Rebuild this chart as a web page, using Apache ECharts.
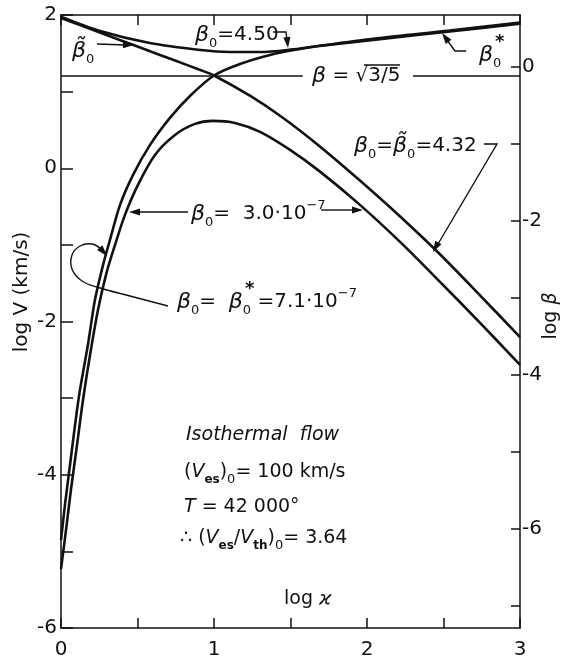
<!DOCTYPE html>
<html><head><meta charset="utf-8">
<script src="https://cdn.jsdelivr.net/npm/echarts@6/dist/echarts.min.js"></script>
<style>html,body{margin:0;padding:0;background:#fff}#c{width:570px;height:669px}</style>
</head><body><div id="c"></div>
<script>
// ---- data (log x on bottom axis, log beta on right axis) ----
const xTickLabels = [0, 1, 2, 3];
const leftTickLabels = [-6, -4, -2, 0, 2];
const rightTickLabels = [-6, -4, -2, 0];
const rightTickValues = [-7, -6, -5, -4, -3, -2, -1, 0];

const tildeX = [0, 0.25, 0.5, 0.75, 0.91, 1.0, 1.24, 1.45, 1.69, 1.95, 2.22, 2.48, 2.74, 3.0];
const tildeY = [0.635, 0.45, 0.265, 0.08, -0.04, -0.111, -0.38, -0.66, -1.03, -1.47, -1.95, -2.44, -2.97, -3.51];

const b450X = [0, 0.25, 0.58, 0.91, 1.1, 1.3, 1.5, 1.67, 2.08, 2.54, 3.0];
const b450Y = [0.653, 0.47, 0.31, 0.22, 0.195, 0.195, 0.225, 0.27, 0.375, 0.472, 0.578];

const starX = [0, 0.026, 0.059, 0.092, 0.124, 0.176, 0.222, 0.275, 0.32, 0.386, 0.471, 0.582, 0.712, 0.843, 1.0, 1.17, 1.366, 1.562, 1.673, 2.085, 2.542, 3.0];
const starY = [-6.149, -5.688, -5.169, -4.649, -4.195, -3.61, -3.026, -2.571, -2.247, -1.792, -1.403, -1.013, -0.662, -0.377, -0.111, 0.039, 0.156, 0.234, 0.268, 0.362, 0.46, 0.562];

const humpX = [0, 0.033, 0.065, 0.105, 0.144, 0.19, 0.242, 0.294, 0.353, 0.418, 0.503, 0.614, 0.745, 0.876, 0.993, 1.137, 1.301, 1.497, 1.693, 1.954, 2.216, 2.477, 2.739, 3.0];
const humpY = [-6.523, -6.013, -5.494, -4.909, -4.325, -3.74, -3.156, -2.701, -2.312, -1.922, -1.532, -1.143, -0.883, -0.74, -0.701, -0.727, -0.844, -1.078, -1.36, -1.792, -2.273, -2.792, -3.325, -3.87];

const criticalLogBeta = -0.111;          // log sqrt(3/5)
const criticalSegments = [[0, 1.58], [2.30, 3.0]];

// ---- chart ----
const zip = (a, b) => a.map((v, i) => [v, b[i]]);
const FF = '"DejaVu Sans", sans-serif';
const INK = '#111';
const chart = echarts.init(document.getElementById('c'), null, {renderer: 'canvas'});

const axisLineStyle = {show: true, onZero: false, lineStyle: {color: INK, width: 1.5}};
function curve(name, xs, ys) {
  return {name, type: 'line', xAxisIndex: 0, yAxisIndex: 1, data: zip(xs, ys),
    showSymbol: false, symbol: 'none', smooth: 0.3, silent: true,
    lineStyle: {color: INK, width: 2.6}, z: 5};
}

const rich = {
  b: {fontFamily: FF, fontSize: 22, fontStyle: 'italic', lineHeight: 30, color: INK},
  n: {fontFamily: FF, fontSize: 20, lineHeight: 30, color: INK},
  s: {fontFamily: FF, fontSize: 13, lineHeight: 13, verticalAlign: 'bottom', color: INK},
  u: {fontFamily: FF, fontSize: 13, lineHeight: 13, verticalAlign: 'top', color: INK},
  i: {fontFamily: FF, fontSize: 19, fontStyle: 'italic', lineHeight: 28, color: INK},
  m: {fontFamily: FF, fontSize: 19, lineHeight: 28, color: INK},
  e: {fontFamily: FF, fontSize: 12, fontWeight: 'bold', lineHeight: 12, verticalAlign: 'bottom', color: INK},
  z: {fontFamily: FF, fontSize: 13, lineHeight: 13, verticalAlign: 'bottom', color: INK}
};
function T(x, y, text, extra) {
  return Object.assign({type: 'text', x, y, silent: true, z: 20,
    style: {text, x: 0, y: 0, fill: INK, font: '20px ' + FF, textAlign: 'left', align: 'left',
      textVerticalAlign: 'middle', verticalAlign: 'middle', rich}}, extra || {});
}
function L(points, smooth) {
  return {type: 'polyline', silent: true, z: 20, shape: {points, smooth: smooth || 0},
    style: {stroke: INK, lineWidth: 1.4, fill: null}};
}
function H(tx, ty, fx, fy) {
  const dx = tx - fx, dy = ty - fy, d = Math.hypot(dx, dy), ux = dx / d, uy = dy / d;
  const len = 11, w = 3.6, bx = tx - ux * len, by = ty - uy * len;
  return {type: 'polygon', silent: true, z: 21,
    shape: {points: [[tx, ty], [bx - uy * w, by + ux * w], [bx + uy * w, by - ux * w]]},
    style: {fill: INK, stroke: null}};
}
const star = (x, y) => ({type: 'text', x, y, silent: true, z: 20,
  style: {text: '*', x: 0, y: 0, fill: INK, font: 'bold 18px ' + FF, align: 'left', textAlign: 'left', verticalAlign: 'middle', textVerticalAlign: 'middle'}});

const graphics = [
  // axis titles
  {type: 'text', x: 22, y: 292, rotation: Math.PI / 2, silent: true,
   style: {text: 'log V (km/s)', x: 0, y: 0, fill: INK, font: '20px ' + FF, align: 'center', textAlign: 'center', verticalAlign: 'middle', textVerticalAlign: 'middle'}},
  {type: 'text', x: 551, y: 316, rotation: Math.PI / 2, silent: true,
   style: {text: '{m|log }{i|β}', x: 0, y: 0, fill: INK, font: '20px ' + FF, align: 'center', textAlign: 'center', verticalAlign: 'middle', textVerticalAlign: 'middle', rich}},
  T(284, 599, '{m|log }{i|ϰ}'),

  // beta tilde 0
  T(72, 51, '{b|β̃}{s|0}'),
  L([[97, 44], [126, 45]]), H(134, 45, 97, 44),

  // beta0 = 4.50
  T(195, 35, '{b|β}{s|0}{n|=4.50}'),
  L([[273, 32], [286, 32], [287, 40]]), H(288, 48, 287, 38),

  // beta = sqrt(3/5)
  T(312, 76, '{b|β}{n| = √3/5}'),
  L([[364, 65], [400, 65]]),

  // beta0*
  T(479, 55, '{b|β}{s|0}'),
  star(495, 42),
  L([[466, 51], [455, 51], [447, 40]]), H(442, 33, 448, 41),

  // beta0 = tilde beta0 = 4.32
  T(354, 146, '{b|β}{s|0}{n|=}{b|β̃}{s|0}{n|=4.32}'),
  L([[484, 144], [497, 144], [438, 244]]), H(433, 252, 438, 243),

  // beta0 = 3.0e-7
  T(191, 214, '{b|β}{s|0}{n|=  3.0·10}{u|−7}'),
  L([[188, 212], [140, 212]]), H(129, 212, 140, 212),
  L([[321, 210], [352, 210]]), H(363, 210, 352, 210),

  // beta0 = beta0* = 7.1e-7
  T(177, 302, '{b|β}{s|0}{n|=  }{b|β}{s|0}{n| =7.1·10}{u|−7}'),
  star(245, 289),
  L([[168, 306], [130, 296], [100, 288], [82, 281], [72, 269], [72, 255], [80, 246], [92, 244], [101, 249]], 0.4),
  H(107, 256, 100, 248),

  // isothermal block
  T(186, 435, '{i|Isothermal  flow}'),
  T(184, 472, '{m|(}{i|V}{e|es}{m|)}{z|0}{m|= 100 km/s}'),
  T(184, 507, '{i|T}{m| = 42 000°}'),
  T(180, 538, '{m|∴ (}{i|V}{e|es}{m|/}{i|V}{e|th}{m|)}{z|0}{m|= 3.64}')
];

chart.setOption({
  animation: false,
  backgroundColor: '#fff',
  grid: {left: 61, right: 50, top: 15, bottom: 41, containLabel: false},
  xAxis: [
    {type: 'value', position: 'bottom', min: 0, max: 3, interval: 0.5,
     axisLine: axisLineStyle, splitLine: {show: false},
     axisTick: {show: true, inside: true, length: 10, lineStyle: {color: INK, width: 1.5}},
     axisLabel: {show: true, margin: 12, fontSize: 20, color: INK, fontFamily: FF,
       formatter: v => xTickLabels.includes(v) ? String(v) : ''}},
    {type: 'value', position: 'top', min: 0, max: 3, interval: 0.5,
     axisLine: axisLineStyle, splitLine: {show: false},
     axisTick: {show: true, inside: true, length: 10, lineStyle: {color: INK, width: 1.5}},
     axisLabel: {show: false}}
  ],
  yAxis: [
    {type: 'value', position: 'left', min: -6, max: 2, interval: 1,
     axisLine: axisLineStyle, splitLine: {show: false},
     axisTick: {show: true, inside: true, length: 12, lineStyle: {color: INK, width: 1.5}},
     axisLabel: {show: true, margin: 4, fontSize: 20, color: INK, fontFamily: FF,
       formatter: v => leftTickLabels.includes(v) ? (v < 0 ? '-' + (-v) : String(v)) : ''}},
    {type: 'value', position: 'right', min: -7.29, max: 0.675,
     axisLine: axisLineStyle, splitLine: {show: false},
     axisTick: {show: true, inside: true, length: 9, customValues: rightTickValues, lineStyle: {color: INK, width: 1.5}},
     axisLabel: {show: true, margin: 2, fontSize: 20, color: INK, fontFamily: FF, customValues: rightTickLabels,
       formatter: v => (v < 0 ? '-' + (-v) : String(v))}}
  ],
  series: [
    Object.assign(curve('beta_tilde_4.32', tildeX, tildeY), {
      markLine: {silent: true, symbol: 'none', label: {show: false},
        lineStyle: {color: INK, width: 1.5, type: 'solid'},
        data: criticalSegments.map(s => [{coord: [s[0], criticalLogBeta]}, {coord: [s[1], criticalLogBeta]}])}}),
    curve('beta0_4.50', b450X, b450Y),
    curve('beta0_star', starX, starY),
    curve('beta0_3e-7', humpX, humpY)
  ],
  graphic: graphics
});
</script>
</body></html>
